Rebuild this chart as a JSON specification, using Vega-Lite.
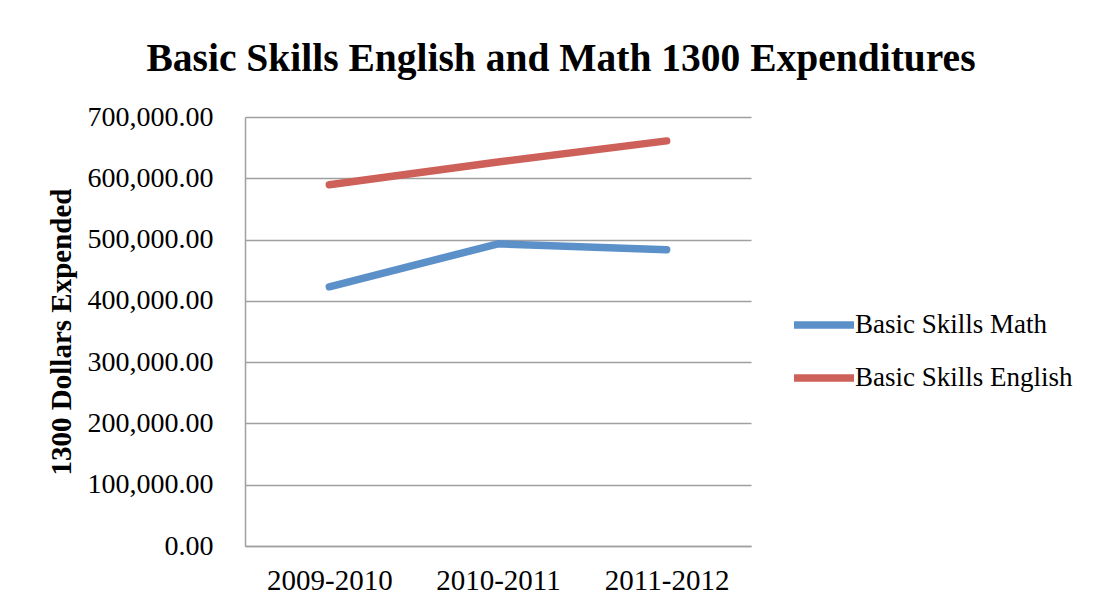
{
  "$schema": "https://vega.github.io/schema/vega-lite/v6.json",
  "autosize": {"type": "none"},
  "width": 506,
  "height": 429,
  "padding": {"left": 245, "top": 117, "right": 352, "bottom": 61},
  "background": "white",
  "title": {
    "text": "Basic Skills English and Math 1300 Expenditures",
    "anchor": "middle",
    "frame": "group",
    "dx": 63,
    "offset": -7,
    "baseline": "alphabetic",
    "font": "Liberation Serif",
    "fontSize": 39.5,
    "fontWeight": "bold",
    "color": "black"
  },
  "data": {
    "values": [
      {"year": "2009-2010", "series": "Basic Skills Math", "value": 423000},
      {"year": "2010-2011", "series": "Basic Skills Math", "value": 493000},
      {"year": "2011-2012", "series": "Basic Skills Math", "value": 483500},
      {"year": "2009-2010", "series": "Basic Skills English", "value": 589500},
      {"year": "2010-2011", "series": "Basic Skills English", "value": 626500},
      {"year": "2011-2012", "series": "Basic Skills English", "value": 661000}
    ]
  },
  "mark": {"type": "line", "strokeWidth": 7.5, "strokeCap": "round", "strokeJoin": "round"},
  "encoding": {
    "x": {
      "field": "year",
      "type": "ordinal",
      "scale": {"type": "point", "padding": 0.5},
      "axis": {
        "title": null,
        "labelAngle": 0,
        "labelFont": "Liberation Serif",
        "labelFontSize": 29,
        "labelColor": "black",
        "labelPadding": 20,
        "ticks": false,
        "grid": false,
        "domainColor": "#A0A0A0",
        "domainWidth": 1.5
      }
    },
    "y": {
      "field": "value",
      "type": "quantitative",
      "scale": {"domain": [0, 700000], "nice": false},
      "axis": {
        "title": "1300 Dollars Expended",
        "titleFont": "Liberation Serif",
        "titleFontSize": 29,
        "titleFontWeight": "bold",
        "titleColor": "black",
        "titlePadding": 11,
        "values": [0, 100000, 200000, 300000, 400000, 500000, 600000, 700000],
        "format": ",.2f",
        "labelFont": "Liberation Serif",
        "labelFontSize": 28,
        "labelColor": "black",
        "labelPadding": 32,
        "ticks": false,
        "grid": true,
        "gridColor": "#A0A0A0",
        "gridWidth": 1.5,
        "domainColor": "#A0A0A0",
        "domainWidth": 1.5
      }
    },
    "color": {
      "field": "series",
      "type": "nominal",
      "sort": ["Basic Skills Math", "Basic Skills English"],
      "scale": {"domain": ["Basic Skills Math", "Basic Skills English"], "range": ["#5B90C8", "#CD6058"]},
      "legend": {
        "title": null,
        "orient": "none",
        "legendX": 545,
        "legendY": 174,
        "symbolType": "stroke",
        "symbolSize": 3600,
        "symbolStrokeWidth": 7.5,
        "labelOffset": -3,
        "labelLimit": 400,
        "rowPadding": 4,
        "labelFont": "Liberation Serif",
        "labelFontSize": 27,
        "labelColor": "black"
      }
    }
  },
  "config": {
    "view": {"stroke": null}
  }
}
